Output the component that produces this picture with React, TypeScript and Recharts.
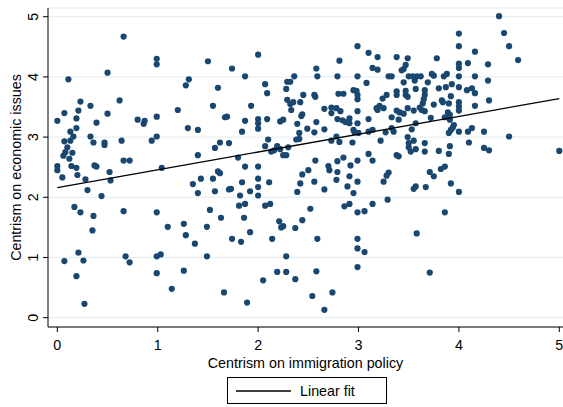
import { ComposedChart, Scatter, XAxis, YAxis, CartesianGrid, Legend } from 'recharts';

type Pt = [number, number];

// centrism on immigration policy (x) vs centrism on economic issues (y)
const leftUpper: Pt[] = [
  [0.66, 4.67], [0.99, 4.30], [0.99, 4.21], [0.50, 4.07], [0.11, 3.96], [0.23, 3.59], [0.33, 3.52],
  [0.62, 3.61], [0.07, 3.40], [0.21, 3.44], [0.0, 3.27], [0.19, 3.31], [0.50, 3.39], [0.39, 3.24],
  [0.80, 3.29], [0.87, 3.27], [0.86, 3.22], [0.99, 3.34], [0.13, 3.09], [0.19, 3.15], [0.16, 3.01],
  [0.13, 2.94], [0.07, 2.93], [0.33, 3.01], [0.36, 2.91], [0.47, 2.91], [0.47, 2.87], [0.64, 2.94],
  [0.94, 2.94], [0.99, 3.01], [0.10, 2.83], [0.08, 2.75], [0.06, 2.69], [0.15, 2.74], [0.12, 2.64],
  [0.66, 2.61], [0.72, 2.61],
];

const leftLower: Pt[] = [
  [0.0, 2.52], [0.0, 2.45], [0.14, 2.52], [0.19, 2.49], [0.37, 2.53], [0.39, 2.51], [0.52, 2.42],
  [0.20, 2.37], [0.05, 2.33], [0.28, 2.30], [0.53, 2.28], [1.04, 2.49], [0.30, 2.12], [0.44, 2.02],
  [0.17, 1.84], [0.23, 1.75], [0.36, 1.69], [0.66, 1.77], [0.99, 1.75], [1.10, 1.51], [0.35, 1.45],
  [0.07, 0.94], [0.21, 1.08], [0.26, 0.95], [0.68, 1.02], [0.72, 0.92], [0.99, 1.02], [1.03, 1.05],
  [0.99, 0.74], [0.19, 0.69], [1.14, 0.48], [0.27, 0.23],
];

const centreLeftUpper: Pt[] = [
  [2.00, 4.37], [1.50, 4.26], [1.74, 4.14], [1.31, 3.96], [1.28, 3.86], [1.87, 4.01], [1.60, 3.82],
  [2.07, 3.88], [2.09, 3.73], [2.28, 3.80], [2.29, 3.92], [2.32, 3.92], [2.36, 4.01], [2.45, 3.70],
  [2.29, 3.62], [2.35, 3.58], [2.32, 3.55], [2.42, 3.58], [2.33, 3.45], [2.44, 3.38], [2.43, 3.35],
  [1.20, 3.45], [1.55, 3.52], [1.93, 3.52], [1.67, 3.33], [1.69, 3.34], [1.87, 3.27], [2.00, 3.30],
  [2.00, 3.23], [2.09, 3.30], [2.22, 3.26], [2.25, 3.29], [2.39, 3.22], [1.30, 3.15], [1.40, 3.12],
  [1.84, 3.09], [2.00, 3.14], [2.41, 3.07], [2.38, 2.96], [2.41, 2.97], [2.10, 2.96], [1.62, 2.91],
  [1.57, 2.82], [1.71, 2.90], [2.07, 2.85], [2.13, 2.76], [2.19, 2.85], [2.16, 2.78], [2.22, 2.80],
  [2.30, 2.83], [2.25, 2.70], [2.28, 2.70], [1.40, 2.70], [1.80, 2.66],
];

const centreLeftLower: Pt[] = [
  [1.60, 2.43], [1.62, 2.40], [1.87, 2.51], [2.00, 2.51], [2.44, 2.38], [1.35, 2.22], [1.43, 2.31],
  [1.40, 2.07], [1.55, 2.31], [1.57, 2.10], [1.71, 2.13], [1.73, 2.14], [1.84, 2.25], [1.92, 2.10],
  [2.00, 2.31], [2.00, 2.17], [2.00, 2.03], [2.11, 2.25], [2.42, 2.23], [2.39, 2.09], [1.82, 2.03],
  [1.81, 1.86], [1.87, 1.89], [1.52, 1.79], [2.07, 1.86], [2.12, 1.89], [1.63, 1.66], [1.86, 1.66],
  [1.26, 1.56], [1.28, 1.37], [1.49, 1.51], [1.37, 1.23], [1.74, 1.31], [1.83, 1.26], [1.92, 1.42],
  [2.14, 1.31], [2.21, 1.60], [2.23, 1.50], [2.25, 1.52], [2.37, 1.49], [2.44, 1.62], [1.49, 1.02],
  [2.28, 1.02], [1.26, 0.78], [2.19, 0.76], [2.28, 0.76], [2.05, 0.62], [2.37, 0.64], [1.66, 0.42],
  [1.89, 0.25],
];

const centreRightUpper: Pt[] = [
  [2.99, 4.51], [3.10, 4.40], [3.19, 4.33], [2.81, 4.27], [3.38, 4.33], [3.49, 4.31], [3.47, 4.20],
  [3.45, 4.13], [2.58, 4.14], [2.59, 4.01], [3.14, 4.15], [3.19, 4.12], [2.79, 4.01], [2.99, 4.01],
  [3.30, 4.01], [3.33, 4.01], [3.43, 4.11], [3.50, 4.01], [3.54, 4.01], [3.58, 4.01], [3.62, 4.01],
  [3.08, 3.90], [3.45, 3.91], [3.56, 3.94], [3.69, 3.91], [2.95, 3.78], [2.98, 3.77], [2.80, 3.72],
  [2.85, 3.72], [2.56, 3.70], [2.57, 3.67], [2.99, 3.70], [2.99, 3.63], [3.24, 3.64], [3.28, 3.70],
  [3.38, 3.76], [3.38, 3.70], [3.47, 3.77], [3.47, 3.70], [3.49, 3.67], [3.57, 3.80], [3.66, 3.78],
  [3.66, 3.70], [3.65, 3.63], [3.64, 3.56], [3.61, 3.49], [2.66, 3.47], [2.73, 3.49], [2.73, 3.40],
  [2.78, 3.48], [2.79, 3.30], [2.82, 3.43], [2.84, 3.28], [2.87, 3.25], [2.91, 3.31], [2.91, 3.23],
  [2.99, 3.43], [2.99, 3.23], [3.10, 3.30], [3.18, 3.48], [3.21, 3.52], [3.19, 3.45], [3.25, 3.48],
  [3.33, 3.33], [3.38, 3.44], [3.41, 3.41], [3.45, 3.39], [3.40, 3.29], [3.49, 3.48], [3.55, 3.44],
  [3.63, 3.45], [3.66, 3.43], [3.57, 3.23], [2.49, 3.14], [2.58, 3.25], [2.56, 3.08], [2.66, 3.13],
  [2.95, 3.12], [2.96, 3.08], [3.00, 3.07], [3.10, 3.09], [3.14, 3.12], [3.27, 3.08], [3.33, 3.15],
  [3.35, 3.09], [3.53, 3.13], [2.78, 3.01], [2.73, 2.94], [2.81, 2.92], [2.94, 2.91], [3.22, 2.94],
  [3.49, 3.00], [3.50, 2.90], [3.55, 2.94], [3.50, 2.83], [3.52, 2.76], [3.57, 2.80], [3.66, 2.90],
  [3.66, 2.76], [3.10, 2.72], [3.38, 2.70], [3.40, 2.68], [3.14, 2.61], [2.99, 2.61], [2.85, 2.66],
  [2.79, 2.60], [2.57, 2.61],
];

const centreRightLower: Pt[] = [
  [2.70, 2.52], [2.71, 2.45], [2.92, 2.53], [2.50, 2.45], [2.79, 2.42], [2.78, 2.29], [2.91, 2.35],
  [2.99, 2.26], [2.89, 2.18], [2.95, 2.07], [2.56, 2.26], [2.66, 2.13], [3.25, 2.26], [3.28, 2.36],
  [3.30, 2.41], [3.55, 2.14], [3.57, 2.18], [3.67, 2.17], [3.71, 2.42], [3.75, 2.35], [2.86, 1.85],
  [2.91, 1.89], [2.99, 1.75], [3.06, 1.77], [3.14, 1.89], [3.29, 1.96], [2.52, 1.81], [2.59, 1.31],
  [2.99, 1.31], [2.99, 1.15], [3.06, 1.09], [2.99, 0.84], [3.58, 1.40], [3.71, 0.75], [2.58, 0.77],
  [2.54, 0.36], [2.74, 0.42], [2.66, 0.13],
];

const rightUpper: Pt[] = [
  [4.40, 5.01], [4.45, 4.73], [4.50, 4.51], [4.59, 4.28], [4.00, 4.72], [4.00, 4.51], [4.16, 4.42],
  [3.78, 4.31], [4.00, 4.22], [4.00, 4.15], [4.09, 4.23], [4.29, 4.21], [3.73, 4.05], [3.75, 4.02],
  [3.85, 4.01], [3.88, 4.05], [4.00, 4.01], [4.16, 4.01], [4.29, 3.94], [3.80, 3.81], [3.87, 3.83],
  [3.93, 3.88], [4.00, 3.83], [4.08, 3.78], [4.13, 3.81], [4.16, 3.73], [3.92, 3.68], [3.75, 3.54],
  [3.83, 3.61], [3.84, 3.58], [3.90, 3.56], [4.00, 3.58], [4.00, 3.51], [4.00, 3.44], [4.16, 3.52],
  [4.30, 3.61], [3.72, 3.32], [3.86, 3.33], [3.89, 3.41], [3.91, 3.37], [3.91, 3.29], [3.95, 3.20],
  [3.94, 3.16], [3.92, 3.12], [3.90, 3.07], [4.00, 3.09], [4.09, 3.09], [4.13, 3.15], [4.25, 3.09],
  [4.50, 3.01], [4.10, 2.91], [3.80, 2.77], [3.91, 2.85], [3.90, 2.72], [4.25, 2.82], [4.30, 2.78],
  [5.00, 2.77],
];

const rightLower: Pt[] = [
  [3.82, 2.47], [3.86, 2.51], [3.92, 2.23], [4.00, 2.09], [3.86, 1.75],
];

// linear fit, ends
const fitX = [0, 5];
const fitY = [2.16, 3.64];

const xTicks = [0, 1, 2, 3, 4, 5];
const yTicks = [0, 1, 2, 3, 4, 5];

const toRows = (pts: Pt[]) => pts.map(([x, y]) => ({ x, y }));

const respondents = toRows([
  ...leftUpper, ...leftLower, ...centreLeftUpper, ...centreLeftLower,
  ...centreRightUpper, ...centreRightLower, ...rightUpper, ...rightLower,
]);
const fitLine = fitX.map((x, i) => ({ x, y: fitY[i] }));

const FONT = '"Liberation Sans", Arial, Helvetica, sans-serif';
const FS = 14.3;
const NAVY = '#1a476f';

const Dot = (props: any) => <circle cx={props.cx} cy={props.cy} r={3.1} fill={NAVY} />;

const XTick = ({ x, payload }: any) => (
  <text x={x} y={350} textAnchor="middle" fontSize={FS} fontFamily={FONT} fill="#000">
    {payload.value}
  </text>
);

const YTick = ({ y, payload }: any) => (
  <text x={38} y={y} transform={`rotate(-90, 38, ${y})`} textAnchor="middle" fontSize={FS} fontFamily={FONT} fill="#000">
    {payload.value}
  </text>
);

const LegendBox = () => (
  <div style={{
    width: 160, height: 27, border: '1px solid #000', boxSizing: 'border-box',
    display: 'flex', alignItems: 'center', fontFamily: FONT, fontSize: FS, color: '#000', background: '#fff',
  }}>
    <svg width={72} height={10}>
      <line x1={8} x2={63} y1={5} y2={5} stroke="#000" strokeWidth={1.3} />
    </svg>
    <span>Linear fit</span>
  </div>
);

export default function App() {
  return (
    <div style={{ position: 'absolute', left: 0, top: 0, background: '#fff' }}>
      <ComposedChart width={563} height={407} margin={{ top: 8, right: 0, left: 8, bottom: 0 }}>
        <CartesianGrid horizontal vertical={false} stroke="#e3ecf0" strokeWidth={1} />
        <XAxis
          type="number" dataKey="x" domain={[-0.093, 5.037]} ticks={xTicks} allowDataOverflow
          height={80} tickSize={5} tick={<XTick />} stroke="#000" interval={0}
          label={({ viewBox }: any) => (
            <text x={viewBox.x + viewBox.width / 2} y={viewBox.y + 41} textAnchor="middle" fontSize={FS} fontFamily={FONT} fill="#000">
              Centrism on immigration policy
            </text>
          )}
        />
        <YAxis
          type="number" dataKey="y" domain={[-0.155, 5.145]} ticks={yTicks} allowDataOverflow
          width={40} tickSize={5} tick={<YTick />} stroke="#000" interval={0}
          label={({ viewBox }: any) => {
            const cy = viewBox.y + viewBox.height / 2;
            return (
              <text x={21} y={cy} transform={`rotate(-90, 21, ${cy})`} textAnchor="middle" fontSize={FS} fontFamily={FONT} fill="#000">
                Centrism on economic issues
              </text>
            );
          }}
        />
        <Scatter data={respondents} shape={<Dot />} isAnimationActive={false} legendType="none" />
        <Scatter
          data={fitLine} line={{ stroke: '#000', strokeWidth: 1.3 }} shape={() => <g />}
          isAnimationActive={false} legendType="none"
        />
        <Legend
          layout="horizontal" verticalAlign="middle" align="center" content={<LegendBox />}
          wrapperStyle={{ position: 'absolute', left: 227, top: 377, width: 160, height: 27 }}
        />
      </ComposedChart>
    </div>
  );
}
